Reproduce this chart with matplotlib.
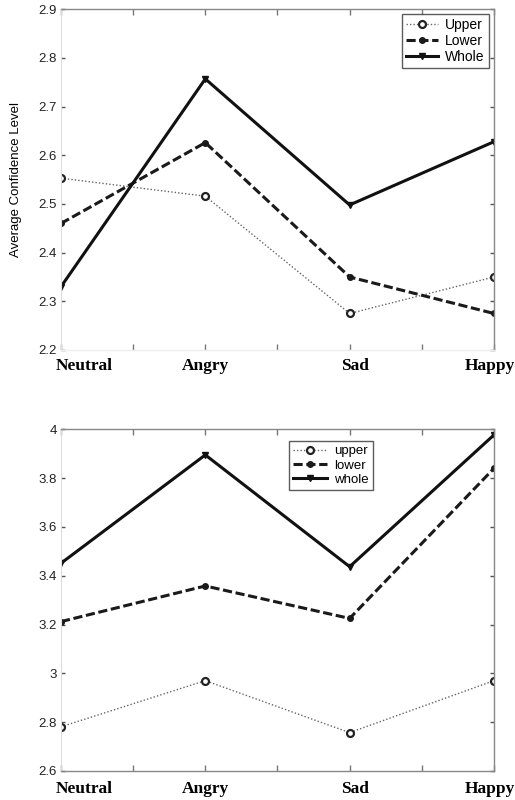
import matplotlib
matplotlib.use("Agg")
import matplotlib.pyplot as plt
from matplotlib.transforms import blended_transform_factory, offset_copy

categories = ["Neutral", "Angry", "Sad", "Happy"]

# Upper panel: average confidence level per emotion
top_upper = [2.553, 2.516, 2.275, 2.350]
top_lower = [2.460, 2.626, 2.350, 2.275]
top_whole = [2.330, 2.757, 2.498, 2.628]
top_labels = ["Upper", "Lower", "Whole"]
top_yticks = [2.2, 2.3, 2.4, 2.5, 2.6, 2.7, 2.8, 2.9]

# Lower panel
bot_upper = [2.781, 2.970, 2.757, 2.970]
bot_lower = [3.212, 3.358, 3.225, 3.840]
bot_whole = [3.451, 3.895, 3.437, 3.977]
bot_labels = ["upper", "lower", "whole"]
bot_yticks = [2.6, 2.8, 3.0, 3.2, 3.4, 3.6, 3.8, 4.0]
bot_yticklabels = ["2.6", "2.8", "3", "3.2", "3.4", "3.6", "3.8", "4"]

sans = ["Liberation Sans", "DejaVu Sans"]
serif = ["Liberation Serif", "DejaVu Serif"]

fig = plt.figure(figsize=(5.15, 8.0), dpi=100)
ax1 = fig.add_axes([0.1184, 0.5625, 0.8408, 0.4259])
ax2 = fig.add_axes([0.1184, 0.0363, 0.8408, 0.4271])

x = [1, 2, 3, 4]


def draw(ax, upper, lower, whole, labels, yticks, yticklabels, ylim, legend_loc,
         legend_size, handle_len, label_drop):
    ax.plot(x, upper, linestyle=(0, (1, 1.5)), color="#666666", lw=1.0,
            marker="o", ms=5, mfc="white", mec="#222222", mew=1.6, label=labels[0])
    ax.plot(x, lower, linestyle=(0, (3, 1.2)), color="#1a1a1a", lw=2.2,
            marker="o", ms=4, mfc="#1a1a1a", mec="#1a1a1a", label=labels[1])
    ax.plot(x, whole, linestyle="-", color="#111111", lw=2.2,
            marker="v", ms=5, mfc="#111111", mec="#111111", label=labels[2])
    ax.set_xlim(1, 4)
    ax.set_ylim(*ylim)
    ax.set_yticks(yticks)
    ax.set_yticklabels(yticklabels, family=sans, fontsize=9.5, color="#222222")
    ax.set_xticks([1, 1.5, 2, 2.5, 3, 3.5, 4])
    ax.set_xticklabels([])
    ax.tick_params(axis="x", direction="in", length=4, width=1.0, color="#777777",
                   top=True)
    ax.tick_params(axis="y", direction="in", length=3, width=1.0, color="#555555",
                   right=True, pad=3)

    # category names under the axis, in bold serif
    base = blended_transform_factory(ax.transData, ax.transAxes)
    shifts = [-5, 0, 5, -4]
    aligns = ["left", "center", "center", "center"]
    for xi, name, dx, ha in zip(x, categories, shifts, aligns):
        tr = offset_copy(base, fig=ax.figure, x=dx, y=-label_drop, units="dots")
        ax.text(xi, 0, name, transform=tr, ha=ha, va="center", family=serif,
                fontweight="bold", fontsize=12.5, clip_on=False)

    for side in ("top", "right", "bottom"):
        ax.spines[side].set_color("#888888")
        ax.spines[side].set_linewidth(1.0)
    ax.spines["left"].set_color("#dddddd")
    leg = ax.legend(loc="upper left", bbox_to_anchor=legend_loc, frameon=True,
                    fancybox=False, prop={"family": sans, "size": legend_size},
                    handlelength=handle_len, handletextpad=0.5, borderpad=0.3,
                    labelspacing=0.15, borderaxespad=0)
    leg.get_frame().set_edgecolor("#333333")
    leg.get_frame().set_linewidth(1.0)
    return leg


draw(ax1, top_upper, top_lower, top_whole, top_labels, top_yticks,
     [f"{v:.1f}" for v in top_yticks], (2.2, 2.9), (0.788, 0.987), 10, 2.3, 16)
ax1.spines["bottom"].set_color("#eeeeee")
ax1.set_ylabel("Average Confidence Level", family=sans, fontsize=9.5, labelpad=12)

draw(ax2, bot_upper, bot_lower, bot_whole, bot_labels, bot_yticks,
     bot_yticklabels, (2.6, 4.0), (0.527, 0.965), 9.5, 2.6, 18)

fig.savefig("out.png", dpi=100)
